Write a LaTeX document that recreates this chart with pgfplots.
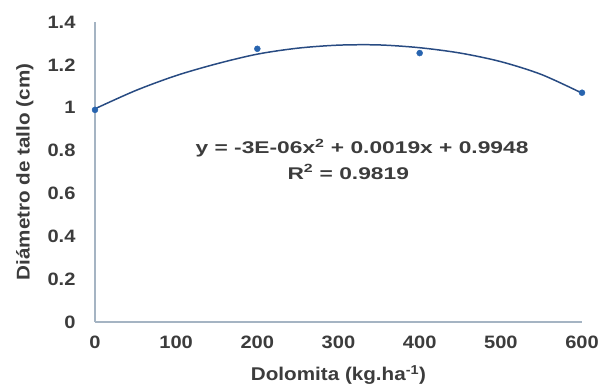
\documentclass[border=0pt]{standalone}
\usepackage{fontspec}
\setmainfont{Liberation Sans}[FakeStretch=1.12]
\usepackage{pgfplots}
\pgfplotsset{compat=1.18}
\definecolor{axisc}{RGB}{165,180,195}
\definecolor{labc}{RGB}{60,60,60}
\definecolor{markc}{RGB}{40,100,175}
\definecolor{trendc}{RGB}{40,75,130}
\begin{document}
\begin{tikzpicture}
\begin{axis}[name=ax, scale only axis, width=487bp, height=300bp,
  xmin=0, xmax=600, ymin=0, ymax=1.4,
  xtick={0,100,200,300,400,500,600},
  ytick={0,0.2,0.4,0.6,0.8,1,1.2,1.4},
  axis x line=bottom, axis y line=left,
  axis line style={axisc, line width=1.3pt, -},
  major tick length=0pt,
  /pgf/number format/assume math mode=true,
  yticklabel style={/pgf/number format/fixed, /pgf/number format/precision=1, xshift=-16bp},
  xticklabel style={yshift=-10bp},
  tick label style={font=\fontsize{18}{18}\selectfont\bfseries, text=labc},
  label style={font=\fontsize{18.5}{18.5}\selectfont\bfseries, text=labc},
  xlabel={Dolomita (kg.ha\textsuperscript{-1})},
  ylabel={Diámetro de tallo (cm)},
  xlabel style={at={(axis description cs:0.5,0)}, anchor=north, yshift=-40bp},
  ylabel style={at={(axis description cs:0,0.5)}, anchor=south, yshift=58bp},
  clip=false]
\addplot[trendc, line width=1.5pt, smooth, no marks] coordinates {
(0,0.995) (50,1.08) (100,1.15) (150,1.205) (200,1.25) (250,1.278) (300,1.292) (350,1.293) (400,1.28) (450,1.255) (500,1.215) (550,1.155) (600,1.068)};
\addplot[only marks, mark=*, mark size=3bp, markc] coordinates {
(0,0.99) (200,1.275) (400,1.255) (600,1.07)};
\node[font=\fontsize{17}{17}\selectfont\bfseries, text=labc] at (axis cs:329,0.81) {\scalebox{1.2}[1]{y = -3E-06x\textsuperscript{2} + 0.0019x + 0.9948}};
\node[font=\fontsize{17}{17}\selectfont\bfseries, text=labc] at (axis cs:312,0.70) {\scalebox{1.2}[1]{R\textsuperscript{2} = 0.9819}};
\end{axis}
\pgfresetboundingbox
\path[use as bounding box] ([xshift=-95bp,yshift=-63bp]ax.south west) rectangle ([xshift=17bp,yshift=22bp]ax.north east);
\end{tikzpicture}
\end{document}
